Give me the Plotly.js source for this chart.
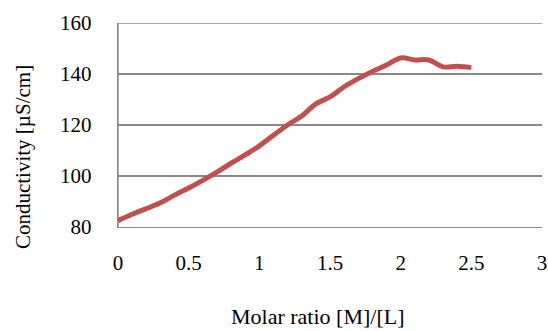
<!DOCTYPE html>
<html>
<head>
<meta charset="utf-8">
<script src="https://cdn.plot.ly/plotly-3.0.1.min.js"></script>
<style>html,body{margin:0;padding:0;background:#fff;}#chart{width:548px;height:331px;}</style>
</head>
<body>
<div id="chart"></div>
<script>
const molarRatio = [0, 0.1, 0.2, 0.3, 0.4, 0.5, 0.6, 0.7, 0.8, 0.9, 1.0, 1.1, 1.2, 1.3, 1.4, 1.5, 1.6, 1.7, 1.8, 1.9, 2.0, 2.1, 2.2, 2.3, 2.4, 2.5];
const conductivity = [82.5, 85, 87.2, 89.5, 92.5, 95.3, 98.3, 101.5, 105, 108.3, 111.8, 116, 120, 123.5, 128.3, 131, 135, 138.2, 141, 143.5, 146.3, 145.5, 145.5, 142.8, 143, 142.5];
const xTitle = "Molar ratio [M]/[L]";
const yTitle = "Conductivity [µS/cm]";

const fam = "Liberation Serif";
const tickFont = {family: fam, size: 21, color: "#000"};
const gridCol = "#898989";

Plotly.newPlot("chart", [{
  x: molarRatio,
  y: conductivity,
  type: "scatter",
  mode: "lines",
  line: {color: "#C0504D", width: 5, shape: "spline", smoothing: 1},
  hoverinfo: "skip"
}], {
  width: 548, height: 331,
  margin: {l: 118, r: 6, t: 23, b: 104},
  paper_bgcolor: "#fff", plot_bgcolor: "#fff",
  showlegend: false,
  font: tickFont,
  xaxis: {
    range: [0, 3], dtick: 0.5, tick0: 0,
    showgrid: false, zeroline: false,
    showline: true, linecolor: gridCol, linewidth: 1.4,
    ticks: "", ticklabelstandoff: 16,
    tickfont: tickFont,
    fixedrange: true
  },
  yaxis: {
    range: [80, 160], dtick: 20,
    showgrid: true, gridcolor: gridCol, gridwidth: 1.4,
    zeroline: false,
    showline: true, linecolor: gridCol, linewidth: 1.4,
    ticks: "", ticklabelstandoff: 21,
    tickfont: tickFont,
    fixedrange: true
  },
  shapes: [
    {type: "line", xref: "paper", yref: "y", x0: 0, x1: 1, y0: 160, y1: 160, line: {color: gridCol, width: 1.4}, layer: "below"},
    {type: "line", xref: "paper", yref: "paper", x0: 0, x1: 0, y0: 0, y1: 1, line: {color: gridCol, width: 1.4}, layer: "below"}
  ],
  annotations: [
    {text: xTitle, xref: "paper", yref: "paper", x: 0.472, y: -0.441, xanchor: "center", yanchor: "middle", showarrow: false, font: {family: fam, size: 22, color: "#000"}},
    {text: yTitle, xref: "paper", yref: "paper", x: -0.224, y: 0.343, xanchor: "center", yanchor: "middle", textangle: -90, showarrow: false, font: {family: fam, size: 21, color: "#000"}}
  ]
}, {staticPlot: true, displayModeBar: false});
</script>
</body>
</html>
